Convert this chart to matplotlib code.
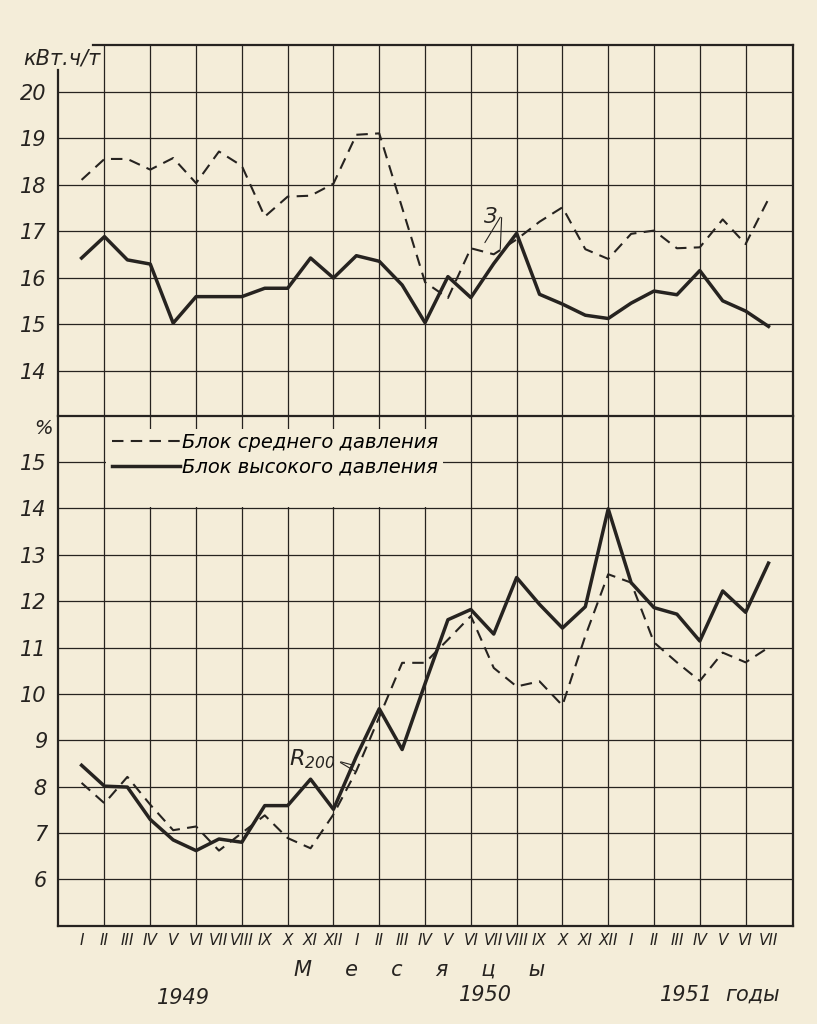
import numpy as np
import matplotlib.pyplot as plt
from matplotlib.lines import Line2D
from matplotlib.patches import Rectangle

# ---------------------------------------------------------------------------
# данные: январь 1949 - июль 1951
# ---------------------------------------------------------------------------
months = (['I', 'II', 'III', 'IV', 'V', 'VI', 'VII', 'VIII', 'IX', 'X', 'XI', 'XII'] * 2
          + ['I', 'II', 'III', 'IV', 'V', 'VI', 'VII'])

# удельный расход электроэнергии, кВт.ч/т
energy_mid = [18.10, 18.55, 18.55, 18.32, 18.57, 18.03, 18.71, 18.40, 17.31, 17.74,
              17.76, 18.02, 19.07, 19.10, 17.50, 15.90, 15.56, 16.63, 16.50, 16.82,
              17.20, 17.51, 16.61, 16.40, 16.94, 17.01, 16.63, 16.65, 17.25, 16.72,
              17.69]
energy_high = [16.42, 16.88, 16.38, 16.29, 15.02, 15.59, 15.59, 15.59, 15.77, 15.77,
               16.42, 15.99, 16.47, 16.35, 15.84, 15.03, 16.02, 15.57, 16.30, 16.95,
               15.64, 15.43, 15.19, 15.12, 15.45, 15.71, 15.63, 16.15, 15.50, 15.28,
               14.95]

# остаток на сите R200, %
r200_mid = [8.08, 7.64, 8.21, 7.61, 7.06, 7.14, 6.62, 7.00, 7.38, 6.89,
            6.67, 7.40, 8.34, 9.50, 10.67, 10.67, 11.17, 11.68, 10.56, 10.16,
            10.27, 9.75, 11.25, 12.58, 12.40, 11.11, 10.68, 10.28, 10.89, 10.68,
            11.00]
r200_high = [8.46, 8.01, 7.99, 7.29, 6.85, 6.62, 6.87, 6.80, 7.59, 7.59,
             8.16, 7.51, 8.65, 9.68, 8.80, 10.22, 11.60, 11.82, 11.29, 12.51,
             11.93, 11.42, 11.88, 13.99, 12.40, 11.86, 11.72, 11.14, 12.22, 11.76,
             12.82]

top_ticks = list(range(14, 21))
bottom_ticks = list(range(6, 16))

BG = '#f4edd9'
INK = '#262320'
DASH = (0, (5.5, 3.5))

plt.rcParams['font.family'] = ['DejaVu Sans']
plt.rcParams['font.style'] = 'italic'
plt.rcParams['mathtext.fontset'] = 'dejavusans'

W, H = 817, 1024


def fx(px):
    return px / W


def fy(py):
    return 1 - py / H


x = np.arange(len(months))

fig = plt.figure(figsize=(8.17, 10.24), dpi=100)
fig.patch.set_facecolor(BG)
ax1 = fig.add_axes([fx(58), fy(415.7), fx(793) - fx(58), fy(45) - fy(415.7)])
ax2 = fig.add_axes([fx(58), fy(925.7), fx(793) - fx(58), fy(415.7) - fy(925.7)], sharex=ax1)

for ax in (ax1, ax2):
    ax.set_facecolor(BG)
    ax.set_xlim(-1.03, 31.07)
    for i in range(1, 31, 2):
        ax.axvline(i, color=INK, lw=0.9, zorder=1)
    ax.yaxis.grid(True, color=INK, lw=0.9, zorder=1)
    ax.set_axisbelow(True)
    for s in ax.spines.values():
        s.set_color(INK)
        s.set_linewidth(1.6)
    ax.tick_params(length=0, labelsize=15, colors=INK, pad=8)

ax1.set_ylim(13.03, 21.0)
ax1.set_yticks(top_ticks)
ax1.spines['bottom'].set_visible(False)
ax1.spines['left'].set_bounds(13.03, 20.47)
ax1.spines['top'].set_bounds(0.5, 31.07)
ax1.tick_params(labelbottom=False)

ax2.set_ylim(5, 16)
ax2.set_yticks(bottom_ticks)
ax2.set_xticks(x)
ax2.set_xticklabels(months, fontsize=11)
ax2.tick_params(axis='x', pad=5)

# чистое поле под легендой
ax2.add_patch(Rectangle((1.06, 14.04), 14.74, 1.68, facecolor=BG, edgecolor='none', zorder=1.5))

ax1.plot(x, energy_mid, color=INK, lw=1.5, ls=DASH, zorder=3)
ax1.plot(x, energy_high, color=INK, lw=2.5, zorder=3)
ax2.plot(x, r200_mid, color=INK, lw=1.5, ls=DASH, zorder=3)
ax2.plot(x, r200_high, color=INK, lw=2.5, zorder=3)

handles = [Line2D([], [], color=INK, lw=1.5, ls=DASH),
           Line2D([], [], color=INK, lw=2.5)]
ax2.legend(handles, ['Блок среднего давления', 'Блок высокого давления'],
           loc='upper left', bbox_to_anchor=((112 - 58) / 735, (925.7 - 433) / 510),
           frameon=False, fontsize=14, handlelength=3.5, handletextpad=0.1,
           labelspacing=0.3, borderpad=0, borderaxespad=0)

# подписи кривых
ax1.annotate('', xy=(17.55, 16.70), xytext=(18.35, 17.35),
             arrowprops=dict(arrowstyle='-', color=INK, lw=0.8))
ax1.annotate('', xy=(18.28, 16.55), xytext=(18.35, 17.35),
             arrowprops=dict(arrowstyle='-', color=INK, lw=0.8))
ax1.text(18.15, 17.3, 'З', fontsize=15, color=INK, ha='right', va='center')

ax2.annotate('', xy=(11.95, 8.45), xytext=(11.2, 8.55),
             arrowprops=dict(arrowstyle='-', color=INK, lw=0.8))
ax2.annotate('', xy=(12.05, 8.3), xytext=(11.2, 8.55),
             arrowprops=dict(arrowstyle='-', color=INK, lw=0.8))
ax2.text(11.1, 8.6, r'$R_{200}$', fontsize=16, color=INK, ha='right', va='center')

# подписи осей
fig.text(fx(62), fy(58), 'кВт.ч/т', fontsize=15, color=INK, ha='center', va='center')
fig.text(fx(43), fy(428), '%', fontsize=14, color=INK, ha='center', va='center')
fig.text(fx(420), fy(970), 'М     е     с     я     ц     ы', fontsize=15, color=INK,
         ha='center', va='center')
fig.text(fx(183), fy(998), '1949', fontsize=15, color=INK, ha='center', va='center')
fig.text(fx(485), fy(995), '1950', fontsize=15, color=INK, ha='center', va='center')
fig.text(fx(686), fy(995), '1951', fontsize=15, color=INK, ha='center', va='center')
fig.text(fx(753), fy(995), 'годы', fontsize=15, color=INK, ha='center', va='center')

fig.savefig('out.png', dpi=100, facecolor=BG)
